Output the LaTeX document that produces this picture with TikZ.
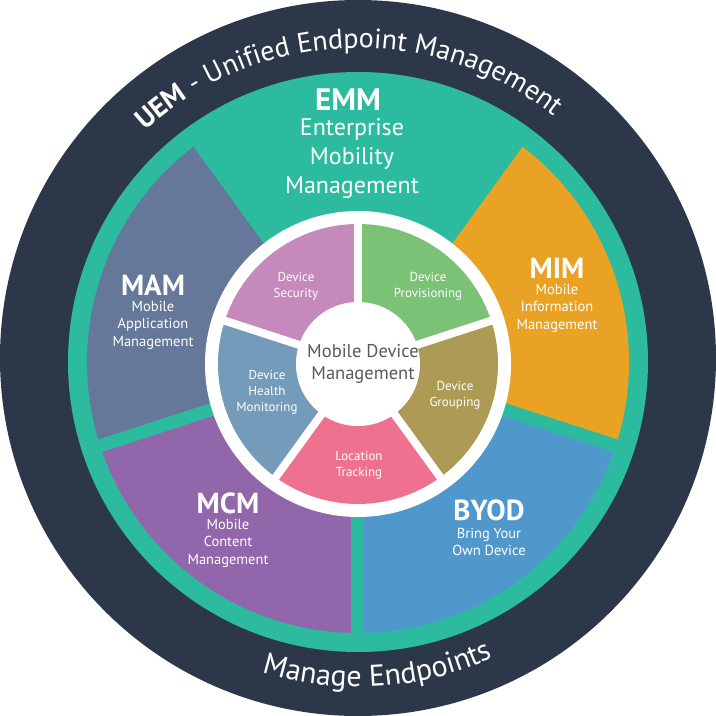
\documentclass[tikz,border=0pt]{standalone}
\usepackage{fontspec}
\setmainfont{PT Sans}
\usetikzlibrary{decorations.text}

\definecolor{uemdark}{RGB}{44,56,73}
\definecolor{emmteal}{RGB}{45,187,159}
\definecolor{mamblue}{RGB}{101,120,153}
\definecolor{mimorange}{RGB}{234,162,37}
\definecolor{byodblue}{RGB}{80,152,204}
\definecolor{mcmpurple}{RGB}{146,102,170}
\definecolor{secpink}{RGB}{197,137,187}
\definecolor{provgreen}{RGB}{123,194,118}
\definecolor{groupolive}{RGB}{173,154,85}
\definecolor{locpink}{RGB}{239,113,144}
\definecolor{healthblue}{RGB}{116,155,185}
\definecolor{mdmgrey}{RGB}{89,89,89}

\begin{document}
\begin{tikzpicture}[x=1pt,y=1pt,
    big/.style={text=white,font=\fontsize{29}{29}\selectfont\bfseries},
    sub/.style={text=white,align=center,font=\fontsize{14.5}{17.5}\selectfont},
    wedgetext/.style={text=white,align=center,font=\fontsize{13}{16}\selectfont},
    ringtext/.style={decorate,decoration={text along path,text align=center,text color=white,text={#1}}}]

    \useasboundingbox (-358,-354) rectangle (358,362);
    \fill[uemdark] (0,4) circle (358pt);
    \fill[emmteal] (0,0) circle (290pt);

    % outer segments
    \fill[mimorange] (0,0) -- (-18:271) arc[start angle=-18,end angle=54,radius=271pt] -- cycle;
    \fill[mamblue] (0,0) -- (126:271) arc[start angle=126,end angle=198,radius=271pt] -- cycle;
    \fill[mcmpurple] (0,0) -- (198:271) arc[start angle=198,end angle=270,radius=271pt] -- cycle;
    \fill[byodblue] (0,0) -- (270:271) arc[start angle=270,end angle=342,radius=271pt] -- cycle;
    \foreach \a in {54,126,198,270,342}
        \draw[emmteal,line width=13pt] (0,0) -- (\a:280);

    \fill[white] (0,-2) circle (153pt);

    % inner wedges
    \begin{scope}[shift={(0,-2)}]
        \fill[secpink] (0,0) -- (90:140) arc[start angle=90,end angle=162,radius=140pt] -- cycle;
        \fill[healthblue] (0,0) -- (162:140) arc[start angle=162,end angle=234,radius=140pt] -- cycle;
        \fill[locpink] (0,0) -- (234:140) arc[start angle=234,end angle=306,radius=140pt] -- cycle;
        \fill[groupolive] (0,0) -- (306:140) arc[start angle=306,end angle=378,radius=140pt] -- cycle;
        \fill[provgreen] (0,0) -- (18:140) arc[start angle=18,end angle=90,radius=140pt] -- cycle;
        \foreach \a in {18,90,162,234,306}
            \draw[white,line width=8pt] (0,0) -- (\a:146);
        \fill[white] (0,0) circle (62pt);
    \end{scope}

    \path[ringtext={|\fontsize{28}{28}\selectfont\bfseries|UEM|\fontsize{28}{28}\selectfont| - Unified Endpoint Management}]
        (182:314) arc[start angle=182,end angle=2,radius=314pt];
    \path[ringtext={|\fontsize{30}{30}\selectfont|Manage Endpoints}]
        (233.7:325) arc[start angle=233.7,end angle=313.7,radius=325pt];

    \node[big,font=\fontsize{31}{31}\selectfont\bfseries] (emm) at (-10,262) {EMM};
    \node[sub,font=\fontsize{24}{29}\selectfont] (emmsub) at (-6,203) {Enterprise\\Mobility\\Management};

    \node[big] (mam) at (-205,77) {MAM};
    \node[sub] (mamsub) at (-205,37) {Mobile\\Application\\Management};
    \node[big] (mim) at (199,94) {MIM};
    \node[sub] (mimsub) at (199,54) {Mobile\\Information\\Management};
    \node[big] (mcm) at (-130,-141) {MCM};
    \node[sub] (mcmsub) at (-130,-181) {Mobile\\Content\\Management};
    \node[big] (byod) at (131,-148) {BYOD};
    \node[sub] (byodsub) at (131,-180) {Bring Your\\Own Device};

    \node[wedgetext] (sec) at (-62,76) {Device\\Security};
    \node[wedgetext] (prov) at (70,76) {Device\\Provisioning};
    \node[wedgetext] (group) at (97,-33) {Device\\Grouping};
    \node[wedgetext] (loc) at (1,-103) {Location\\Tracking};
    \node[wedgetext] (health) at (-91,-30) {Device\\Health\\Monitoring};
    \node[text=mdmgrey,align=center,font=\fontsize{18.5}{22}\selectfont] (mdm) at (5,-2) {Mobile Device\\Management};
\end{tikzpicture}
\end{document}
